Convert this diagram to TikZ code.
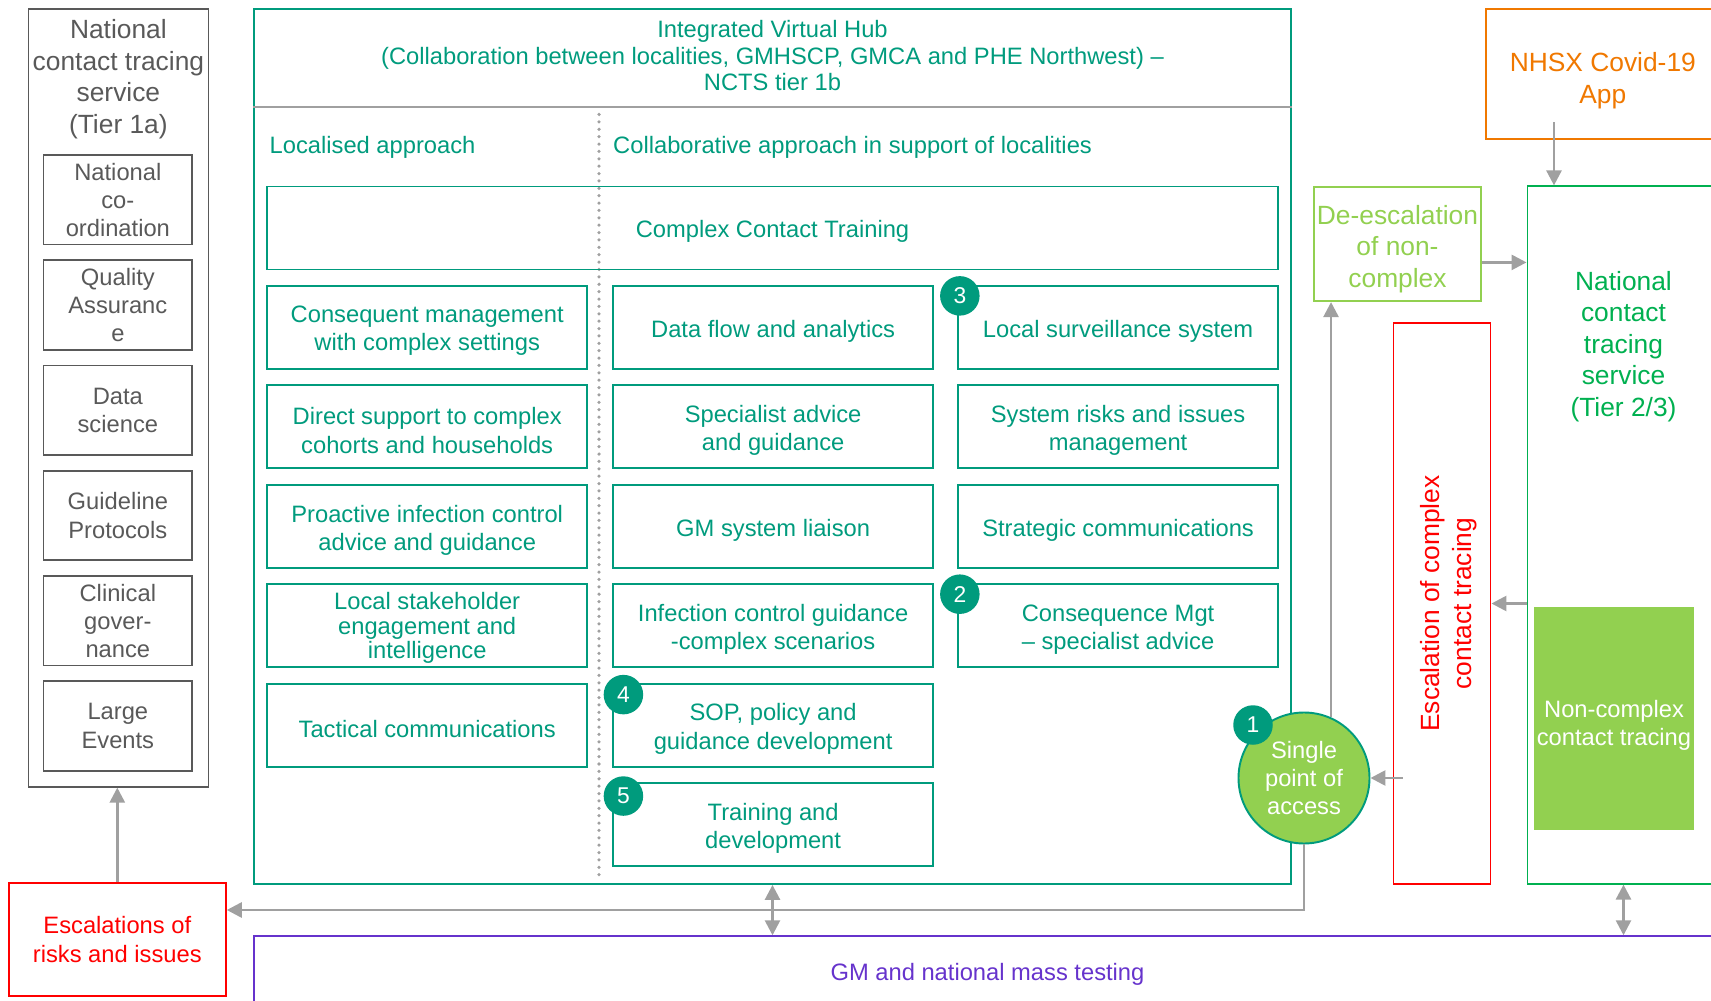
\documentclass[tikz,border=0pt]{standalone}
\usepackage{fontspec}
\setmainfont{Liberation Sans}
\usetikzlibrary{arrows.meta, positioning}

\definecolor{hubteal}{RGB}{0,155,125}
\definecolor{natgrey}{RGB}{89,89,89}
\definecolor{linegrey}{RGB}{160,160,160}
\definecolor{limegreen}{RGB}{146,208,80}
\definecolor{tiergreen}{RGB}{0,176,80}
\definecolor{apporange}{RGB}{240,120,0}
\definecolor{escred}{RGB}{255,0,0}
\definecolor{testpurple}{RGB}{102,51,204}

\newcommand{\normsize}{\fontsize{13.5}{16}\selectfont}
\newcommand{\bigsize}{\fontsize{15}{18}\selectfont}

\begin{document}
\begin{tikzpicture}[
    font=\normsize,
    frame/.style={rectangle, draw, line width=1.1pt, align=center, inner sep=0pt},
    cellbox/.style={frame, draw=hubteal, minimum width=6.39cm, minimum height=1.66cm},
    cell/.style={cellbox, label={[text=hubteal, align=center, yshift=-0.075cm]center:{#1}}},
    natbox/.style={frame, draw=natgrey, text=natgrey, line width=1pt, minimum width=2.97cm, minimum height=1.79cm},
    badge/.style={circle, fill=hubteal, text=white, minimum size=0.79cm, inner sep=0pt, font=\fontsize{13}{15}\selectfont},
    arrow/.style={-{Triangle[length=0.3cm, width=0.3cm]}, line width=1.5pt, draw=linegrey},
    twoway/.style={{Triangle[length=0.3cm, width=0.3cm]}-{Triangle[length=0.3cm, width=0.3cm]}, line width=1.5pt, draw=linegrey}
]
\useasboundingbox (0,0) rectangle (34.22,-20.01);

% national tier 1a column
\node[frame, draw=natgrey, line width=1pt, minimum width=3.6cm, minimum height=15.56cm] (ncts1) at (2.368,-7.955) {};
\node[text=natgrey, font=\bigsize, align=center] (ncts1txt) at (2.368,-1.58) {National\\contact tracing\\service\\(Tier 1a)};
\node[natbox] (n1) at (2.357,-3.994) {National\\co-\\ordination};
\node[natbox, below=0.28cm of n1] (n2) {Quality\\Assuranc\\e};
\node[natbox, below=0.28cm of n2] (n3) {Data\\science};
\node[natbox, below=0.28cm of n3] (n4) {Guideline\\Protocols};
\node[natbox, below=0.28cm of n4] (n5) {Clinical\\gover-\\nance};
\node[natbox, below=0.28cm of n5] (n6) {Large\\Events};

\node[frame, draw=escred, text=escred, minimum width=4.34cm, minimum height=2.27cm] (escal) at (2.346,-18.79) {Escalations of\\risks and issues};

% integrated virtual hub
\node[frame, draw=hubteal, minimum width=20.735cm, minimum height=17.505cm] (hub) at (15.45,-8.926) {};
\node[text=hubteal, align=center, font=\fontsize{13.5}{15}\selectfont] (hubtxt) at (15.45,-1.113) {Integrated Virtual Hub\\(Collaboration between localities, GMHSCP, GMCA and PHE Northwest) --\\NCTS tier 1b};
\coordinate (hdr) at (0,-2.139);
\draw[linegrey, line width=1.1pt] (hub.west |- hdr) -- (hub.east |- hdr);
\draw[linegrey, line width=2pt, line cap=round, dash pattern=on 0pt off 4.2pt] (11.98,-2.29) -- (11.98,-17.63);

\node[text=hubteal, anchor=west] (local) at (5.27,-2.95) {Localised approach};
\node[text=hubteal, anchor=west] (collab) at (12.14,-2.95) {Collaborative approach in support of localities};

\node[cell={Complex Contact Training}, minimum width=20.21cm] (cct) at (15.45,-4.56) {};

\node[cell={Consequent management\\with complex settings}] (c11) at (8.544,-6.547) {};
\node[cell={Data flow and analytics}, right=0.49cm of c11] (c12) {};
\node[cell={Local surveillance system}, right=0.47cm of c12] (c13) {};

\node[cell={Direct support to complex\\cohorts and households}, below=0.29cm of c11] (c21) {};
\node[cell={Specialist advice\\and guidance}, below=0.29cm of c12] (c22) {};
\node[cell={System risks and issues\\management}, below=0.29cm of c13] (c23) {};

\node[cell={Proactive infection control\\advice and guidance}, below=0.29cm of c21] (c31) {};
\node[cell={GM system liaison}, below=0.29cm of c22] (c32) {};
\node[cell={Strategic communications}, below=0.29cm of c23] (c33) {};

\node[cellbox, below=0.29cm of c31, label={[text=hubteal, align=center, yshift=-0.05cm, font=\fontsize{13.5}{14}\selectfont]center:{Local stakeholder\\engagement and\\intelligence}}] (c41) {};
\node[cell={Infection control guidance\\-complex scenarios}, below=0.29cm of c32] (c42) {};
\node[cell={Consequence Mgt\\-- specialist advice}, below=0.29cm of c33] (c43) {};

\node[cell={Tactical communications}, below=0.29cm of c41] (c51) {};
\node[cell={SOP, policy and\\guidance development}, below=0.29cm of c42] (c52) {};

\node[cell={Training and\\development}, below=0.29cm of c52] (c62) {};

\node[badge] (b3) at ([shift={(0.05,-0.22)}]c13.north west) {3};
\node[badge] (b2) at ([shift={(0.05,-0.22)}]c43.north west) {2};
\node[badge] (b4) at ([shift={(0.22,-0.24)}]c52.north west) {4};
\node[badge] (b5) at ([shift={(0.22,-0.28)}]c62.north west) {5};

% single point of access and escalation routes
\node[circle, draw=hubteal, fill=limegreen, line width=1.1pt, text=white, minimum size=2.62cm, inner sep=0pt, align=center] (spa) at (26.08,-15.56) {Single\\point of\\access};
\node[badge] (b1) at ([shift={(-0.08,0.12)}]spa.135) {1};

\node[frame, draw=limegreen, minimum width=3.34cm, minimum height=2.29cm] (deesc) at (27.95,-4.878) {};
\node[text=limegreen, font=\bigsize, align=center, inner sep=0pt] (deesctxt) at (27.95,-4.98) {De-escalation\\of non-\\complex};

\node[frame, draw=escred, minimum width=1.94cm, minimum height=11.22cm] (esc) at (28.84,-12.07) {};
\node[text=escred, font=\fontsize{15}{18.5}\selectfont, align=center, rotate=90] (esctxt) at ([xshift=0.13cm]esc.center) {Escalation of complex\\contact tracing};

% app and national tier 2/3
\node[frame, draw=apporange, minimum width=4.67cm, minimum height=2.6cm] (nhsx) at (32.057,-1.474) {};
\node[text=apporange, font=\bigsize, align=center] (nhsxtxt) at (32.057,-1.62) {NHSX Covid-19\\App};

\node[frame, draw=tiergreen, minimum width=3.84cm, minimum height=13.945cm] (ncts2) at (32.47,-10.70) {};
\node[text=tiergreen, font=\bigsize, align=center] (ncts2txt) at (32.47,-6.93) {National\\contact\\tracing\\service\\(Tier 2/3)};
\node[rectangle, fill=limegreen, text=white, align=center, inner sep=0pt, minimum width=3.185cm, minimum height=4.474cm] (noncx) at (32.28,-14.37) {};
\node[text=white, align=center, inner sep=0pt] (noncxtxt) at (32.28,-14.5) {Non-complex\\contact tracing};

% mass testing
\node[frame, draw=testpurple, text=testpurple, minimum width=29.34cm, minimum height=1.53cm] (gm) at (19.75,-19.49) {GM and national mass testing};

% connectors
\coordinate (appin) at (31.08,-2.45);
\coordinate (bus) at (26.08,-18.2);
\draw[arrow] (escal.north) -- (escal.north |- ncts1.south);
\draw[arrow] (appin) -- (appin |- ncts2.north);
\draw[arrow] ([yshift=-0.37cm]deesc.east) -- ([yshift=-0.37cm]deesc.east -| ncts2.west);
\draw[arrow] (spa.66) -- (spa.66 |- deesc.south);
\draw[arrow] (esc.east -| ncts2.west) -- (esc.east);
\draw[arrow] ([xshift=0.2cm]esc.west |- spa.east) -- (spa.east);
\draw[arrow] (spa.south) -- (bus) -- (bus -| escal.east);
\draw[twoway] (hub.south) -- (hub.south |- gm.north);
\draw[twoway] (ncts2.south) -- (ncts2.south |- gm.north);

\end{tikzpicture}
\end{document}
